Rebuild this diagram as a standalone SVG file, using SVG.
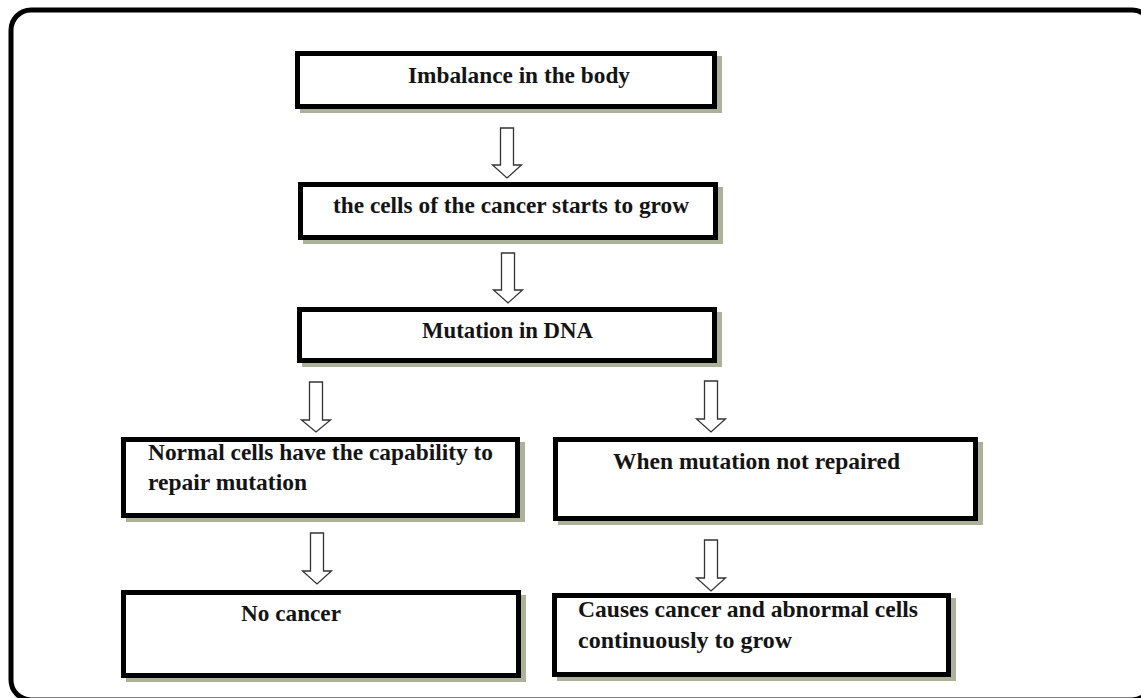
<svg xmlns="http://www.w3.org/2000/svg" width="1141" height="698" viewBox="0 0 1141 698">
  <defs>
    <style>
      .shadow { fill: #acb19a; }
      .box { fill: #ffffff; stroke: #000000; stroke-width: 5; }
      .lbl { font-family: "Liberation Serif", "Times New Roman", serif; font-weight: bold; font-size: 23px; fill: #141414; }
      .arrow { fill: #ffffff; stroke: #333333; stroke-width: 1.3; stroke-linejoin: miter; }
      .frame { fill: none; stroke: #000000; stroke-width: 5; }
    </style>
  </defs>
  <rect x="0" y="0" width="1141" height="698" fill="#ffffff"/>
  <rect class="frame" x="11" y="10" width="1141" height="690" rx="20" ry="20"/>

  <g id="connectors">
    <path class="arrow" d="M500.5,128 H513.5 V165 H521.5 L507,178 L492.5,165 H500.5 Z"/>
    <path class="arrow" d="M501.5,253 H514.5 V290 H522.5 L508,303 L493.5,290 H501.5 Z"/>
    <path class="arrow" d="M309.5,382 H322.5 V420 H330.5 L316,432 L301.5,420 H309.5 Z"/>
    <path class="arrow" d="M704.5,381 H717.5 V419 H725.5 L711,432 L696.5,419 H704.5 Z"/>
    <path class="arrow" d="M310.5,533 H323.5 V571 H331.5 L317,584 L302.5,571 H310.5 Z"/>
    <path class="arrow" d="M704.5,540 H717.5 V578 H725.5 L711,591 L696.5,578 H704.5 Z"/>
  </g>

  <g id="node-imbalance">
    <rect class="shadow" x="300" y="56" width="422" height="57"/>
    <rect class="box" x="297.5" y="53.5" width="417" height="53"/>
    <text class="lbl" x="408" y="83" textLength="222" lengthAdjust="spacingAndGlyphs">Imbalance in the body</text>
  </g>

  <g id="node-cells-grow">
    <rect class="shadow" x="303" y="187" width="420" height="57"/>
    <rect class="box" x="300.5" y="184.5" width="415" height="53"/>
    <text class="lbl" x="333" y="213" textLength="356" lengthAdjust="spacingAndGlyphs">the cells of the cancer starts to grow</text>
  </g>

  <g id="node-mutation">
    <rect class="shadow" x="302" y="312" width="420" height="55"/>
    <rect class="box" x="299.5" y="309.5" width="415" height="51"/>
    <text class="lbl" x="422" y="338" textLength="171" lengthAdjust="spacingAndGlyphs">Mutation in DNA</text>
  </g>

  <g id="node-normal-repair">
    <rect class="shadow" x="126" y="442" width="399" height="80"/>
    <rect class="box" x="123.5" y="439.5" width="394" height="76"/>
    <text class="lbl" x="148" y="460" textLength="345" lengthAdjust="spacingAndGlyphs">Normal cells have the capability to</text>
    <text class="lbl" x="148" y="490" textLength="159" lengthAdjust="spacingAndGlyphs">repair mutation</text>
  </g>

  <g id="node-not-repaired">
    <rect class="shadow" x="558" y="442" width="425" height="83"/>
    <rect class="box" x="555.5" y="439.5" width="420" height="79"/>
    <text class="lbl" x="613" y="469" textLength="287" lengthAdjust="spacingAndGlyphs">When mutation not repaired</text>
  </g>

  <g id="node-no-cancer">
    <rect class="shadow" x="126" y="595" width="400" height="87"/>
    <rect class="box" x="123.5" y="592.5" width="395" height="83"/>
    <text class="lbl" x="241" y="621" textLength="100" lengthAdjust="spacingAndGlyphs">No cancer</text>
  </g>

  <g id="node-causes-cancer">
    <rect class="shadow" x="557" y="598" width="399" height="83"/>
    <rect class="box" x="554.5" y="595.5" width="394" height="79"/>
    <text class="lbl" x="578" y="617" textLength="340" lengthAdjust="spacingAndGlyphs">Causes cancer and abnormal cells</text>
    <text class="lbl" x="578" y="648" textLength="214" lengthAdjust="spacingAndGlyphs">continuously to grow</text>
  </g>
</svg>
